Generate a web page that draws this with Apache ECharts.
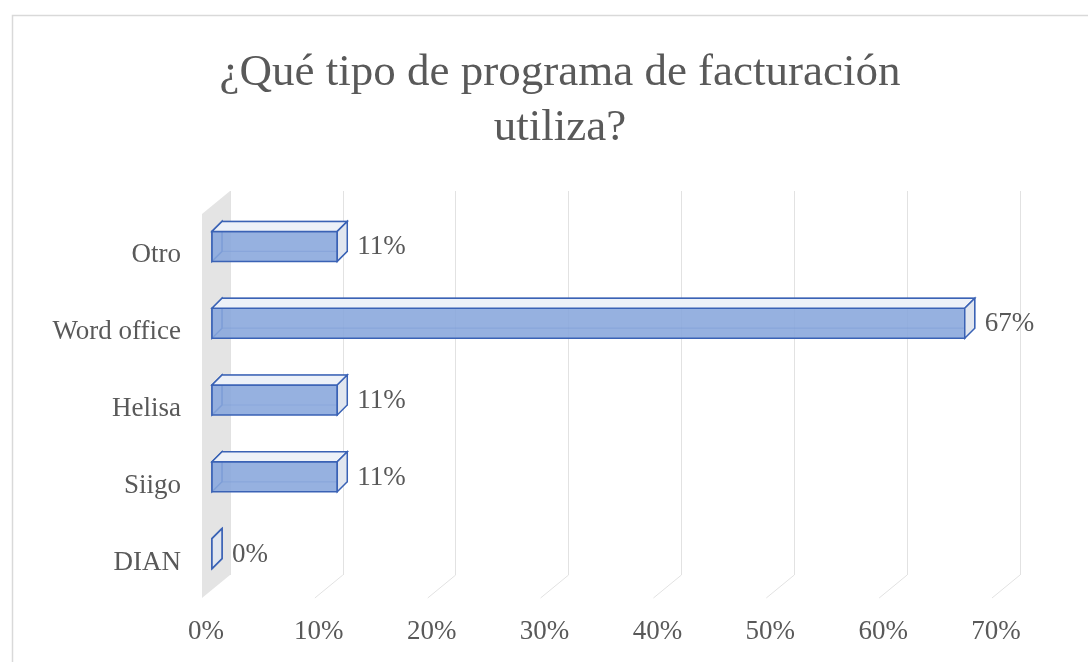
<!DOCTYPE html>
<html>
<head>
<meta charset="utf-8">
<script src="https://cdn.jsdelivr.net/npm/echarts@6/dist/echarts.min.js"></script>
<style>
  * { margin: 0; padding: 0; }
  html, body { background: #fff; }
</style>
</head>
<body>
<div id="main" style="width:1088px;height:662px;"></div>
<script>
  // datos
  var categorias = ['Otro', 'Word office', 'Helisa', 'Siigo', 'DIAN'];
  var valores = [11.1, 66.7, 11.1, 11.1, 0];
  var ticks = [0, 10, 20, 30, 40, 50, 60, 70];

  var fuente = 'Liberation Serif, Times New Roman, serif';
  var gris = '#595959';
  var borde = '#3a62b5';

  var chart = echarts.init(document.getElementById('main'));

  // pared gris y lineas diagonales del piso (efecto 3D)
  function renderPiso(params, api) {
    var cs = params.coordSys;
    var v = api.value(0);
    var x = api.coord([v, 0])[0];
    var top = cs.y, bot = cs.y + cs.height;
    if (v === 0) {
      return {
        type: 'polygon',
        shape: { points: [[x, top], [x, bot], [x - 28, bot + 23], [x - 28, top + 23]] },
        style: { fill: '#e4e4e4', stroke: null }
      };
    }
    return {
      type: 'line',
      shape: { x1: x, y1: bot, x2: x - 28, y2: bot + 23 },
      style: { stroke: '#e2e2e2', lineWidth: 1 }
    };
  }

  // barras 3D
  function renderBarra(params, api) {
    var v = api.value(0), idx = api.value(1);
    var p = api.coord([v, idx]);
    var p0 = api.coord([0, idx]);
    var d = 10;
    var l = p0[0] - 18, r = p[0] - 18, t = p[1] + 2, b = p[1] + 32;
    var edge = { stroke: borde, lineWidth: 1.5 };
    return {
      type: 'group',
      children: [
        { type: 'rect', shape: { x: l + d, y: t - d, width: r - l, height: b - t },
          style: { fill: null, stroke: 'rgba(58,98,181,0.55)', lineWidth: 1.2 } },
        { type: 'polygon', shape: { points: [[l, t], [l + d, t - d], [l + d, b - d], [l, b]] },
          style: Object.assign({ fill: 'rgba(226,232,244,0.7)' }, edge) },
        { type: 'rect', shape: { x: l, y: t, width: r - l, height: b - t },
          style: Object.assign({ fill: 'rgba(136,166,220,0.88)' }, edge) },
        { type: 'polygon', shape: { points: [[l, t], [l + d, t - d], [r + d, t - d], [r, t]] },
          style: Object.assign({ fill: '#edf1f8' }, edge) },
        { type: 'polygon', shape: { points: [[r, t], [r + d, t - d], [r + d, b - d], [r, b]] },
          style: Object.assign({ fill: '#e1e6ef' }, edge) },
        { type: 'text', x: r + d + 10, y: p[1] + 18,
          style: { text: Math.round(v) + '%', fill: gris, font: '27px ' + fuente,
                   textAlign: 'left', textVerticalAlign: 'middle' } }
      ]
    };
  }

  chart.setOption({
    animation: false,
    graphic: [{
      type: 'rect', left: 10, top: 13,
      shape: { width: 1100, height: 700 },
      style: { fill: 'none', stroke: '#d9d9d9', lineWidth: 1.5 }
    }],
    title: {
      text: '¿Qué tipo de programa de facturación\nutiliza?',
      left: 555, top: 41,
      textAlign: 'center',
      textStyle: { fontFamily: fuente, fontSize: 45, fontWeight: 'normal', color: gris, lineHeight: 55 }
    },
    grid: { left: 230, right: 68, top: 191, bottom: 87 },
    xAxis: {
      type: 'value', min: 0, max: 70, interval: 10,
      axisLine: { show: false }, axisTick: { show: false },
      splitLine: { lineStyle: { color: '#e2e2e2', width: 1 } },
      axisLabel: {
        formatter: '{value}%', margin: 43, padding: [0, 48, 0, 0],
        fontFamily: fuente, fontSize: 27, color: gris
      }
    },
    yAxis: {
      type: 'category', data: categorias, inverse: true,
      axisLine: { show: false }, axisTick: { show: false },
      splitLine: { show: false },
      axisLabel: {
        margin: 49, verticalAlign: 'top', lineHeight: 52,
        fontFamily: fuente, fontSize: 27, color: gris
      }
    },
    series: [
      {
        type: 'custom', z: 1, silent: true,
        renderItem: renderPiso,
        encode: { x: 0 },
        data: ticks.map(function (t) { return [t]; })
      },
      {
        type: 'custom', z: 5,
        renderItem: renderBarra,
        encode: { x: 0, y: 1 },
        data: valores.map(function (v, i) { return [v, i]; })
      }
    ]
  });
</script>
</body>
</html>
